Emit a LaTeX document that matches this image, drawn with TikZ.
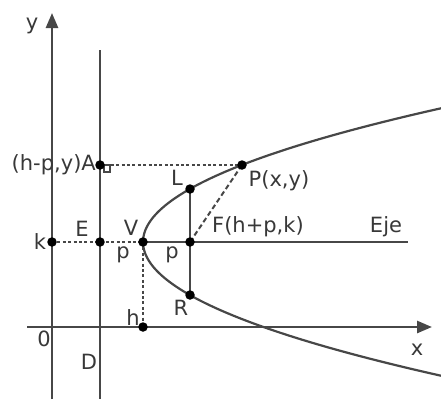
\documentclass[tikz,border=0pt]{standalone}
\usepackage{fontspec}
\setmainfont{DejaVu Sans}
\usetikzlibrary{arrows.meta}
\usetikzlibrary{positioning}
\pgfdeclarelayer{bg}
\pgfsetlayers{bg,main}

\begin{document}
\begin{tikzpicture}[
  x=1pt, y=-1pt,
  line/.style={draw=black!72, line width=2.6pt},
  curve/.style={draw=black!72, line width=2.2pt},
  guide/.style={draw=black!72, line width=2pt, dash pattern=on 3pt off 2.4pt},
  focal/.style={draw=black!72, line width=2pt, dash pattern=on 5pt off 3pt},
  dot/.style={circle, fill=black, inner sep=0pt, minimum size=9.5pt},
  lbl/.style={text=black!78, inner sep=0pt, font=\fontsize{21}{24}\selectfont},
  axisarrow/.style={-{Triangle[length=15pt, width=12pt]}}
]
\useasboundingbox (0,0) rectangle (441,399);

% points of the figure
\coordinate (O) at (52,327);
\coordinate (yb) at (52,399);
\coordinate (yt) at (52,13);
\coordinate (xl) at (27,327);
\coordinate (xr) at (432,327);
\coordinate (Dt) at (100,50);
\coordinate (Db) at (100,399);
\coordinate (Ej) at (408,242);
\coordinate (D) at (100,327);

\node[dot] (k) at (52,242) {};
\node[dot] (E) at (100,242) {};
\node[dot] (V) at (143,242) {};
\node[dot] (F) at (190,242) {};
\node[dot] (h) at (143,327) {};
\node[dot] (A) at (100,165) {};
\node[dot] (P) at (242,165) {};
\node[dot] (L) at (190,189) {};
\node[dot] (R) at (190,295) {};

\begin{pgfonlayer}{bg}
% axes and directrix
\draw[line, axisarrow] (yb) -- (yt);
\draw[line, axisarrow] (xl) -- (xr);
\draw[line] (Dt) -- (Db);

% parabola, vertex (143,242)
\draw[curve] plot[domain=-13.6:13.6, samples=80, smooth] ({143+\x*\x*10/6},{242+10*\x});

% guide lines
\draw[guide] (k.center) -- (V.center);
\draw[line] (V.center) -- (Ej);
\draw[guide] (V.center) -- (h.center);
\draw[guide] (A.center) -- (P.center);
\draw[focal] (P.center) -- (F.center);
\draw[line] (L.center) -- (R.center);
\draw[draw=black!72, line width=1.2pt] (104,165) rectangle (110,172);
\end{pgfonlayer}

% labels
\node[lbl] (ly) at (32,26) {y};
\node[lbl, anchor=east] (lA) at ([xshift=-4pt]A) {(h-p,y)A};
\node[lbl] (lL) at ([shift={(-13,-11)}]L) {L};
\node[lbl] (lP) at ([shift={(37,16)}]P) {P(x,y)};
\node[lbl, anchor=west] (lF) at ([shift={(22,-15)}]F) {F(h+p,k)};
\node[lbl] (lEje) at ([shift={(-22,-15)}]Ej) {Eje};
\node[lbl] (lk) at ([shift={(-12,0)}]k) {k};
\node[lbl] (lE) at ([shift={(-18,-13)}]E) {E};
\node[lbl] (lV) at ([shift={(-12,-14)}]V) {V};
\node[lbl] (lp1) at ([shift={(-20,13)}]V) {p};
\node[lbl] (lp2) at ([shift={(-18,13)}]F) {p};
\node[lbl] (lR) at ([shift={(-9,13)}]R) {R};
\node[lbl] (lh) at ([shift={(-10,-9)}]h) {h};
\node[lbl] (l0) at ([shift={(-8,12)}]O) {0};
\node[lbl] (lD) at ([shift={(-11,35)}]D) {D};
\node[lbl] (lx) at ([shift={(-15,23)}]xr) {x};
\end{tikzpicture}
\end{document}
